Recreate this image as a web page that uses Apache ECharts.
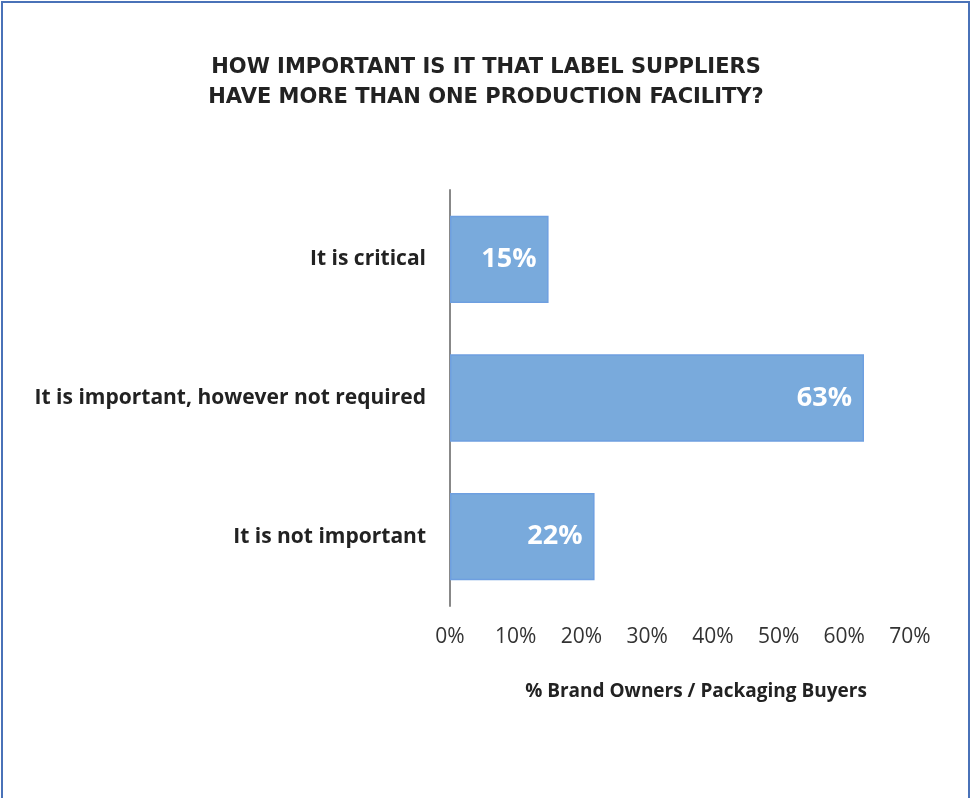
<!DOCTYPE html>
<html><head><meta charset="utf-8">
<script src="https://cdn.jsdelivr.net/npm/echarts@6/dist/echarts.min.js"></script>
<style>html,body{margin:0;padding:0;background:#fff}#c{width:973px;height:798px}
#frame{position:absolute;left:1px;top:1px;width:969px;height:810px;border:2px solid #4a72b8;pointer-events:none;box-sizing:border-box}</style>
</head><body><div id="c"></div><div id="frame"></div>
<script>
const titleLines = ['HOW IMPORTANT IS IT THAT LABEL SUPPLIERS', 'HAVE MORE THAN ONE PRODUCTION FACILITY?'];
const categories = ['It is critical', 'It is important, however not required', 'It is not important'];
const values = [15, 63, 22];
const axisName = '% Brand Owners / Packaging Buyers';
const xMin = 0, xMax = 70, xStep = 10;

const chart = echarts.init(document.getElementById('c'), null, {renderer: 'canvas'});
chart.setOption({
  backgroundColor: '#fff',
  animation: false,
  title: {
    text: titleLines.join('\n'),
    left: 481, top: 48, textAlign: 'center',
    textStyle: {fontFamily: 'DejaVu Sans', fontWeight: 'bold', fontSize: 21, lineHeight: 30, color: '#222'}
  },
  grid: {left: 450, right: 63, top: 190, bottom: 192, containLabel: false},
  xAxis: {
    type: 'value', min: xMin, max: xMax, interval: xStep,
    axisLine: {show: false}, axisTick: {show: false}, splitLine: {show: false},
    axisLabel: {formatter: '{value}%', fontFamily: 'Open Sans', fontSize: 21, color: '#333', margin: 21},
    name: axisName, nameLocation: 'middle', nameGap: 76,
    nameTextStyle: {fontFamily: 'Open Sans', fontWeight: 'bold', fontSize: 19, color: '#222', padding: [0, 0, 0, 32]}
  },
  yAxis: {
    type: 'category', data: categories, inverse: true,
    axisLine: {show: true, lineStyle: {color: '#888', width: 2}}, axisTick: {show: false},
    axisLabel: {fontFamily: 'Open Sans', fontWeight: 'bold', fontSize: 21, color: '#222', margin: 24}
  },
  series: [{
    type: 'bar', data: values, barWidth: '63%',
    itemStyle: {color: '#79aadc', borderColor: '#6e9fe0', borderWidth: 1.5},
    label: {show: true, position: 'insideRight', formatter: '{c}%', color: '#fff',
      fontFamily: 'Open Sans', fontWeight: 'bold', fontSize: 27, distance: 12}
  }]
});
</script></body></html>
